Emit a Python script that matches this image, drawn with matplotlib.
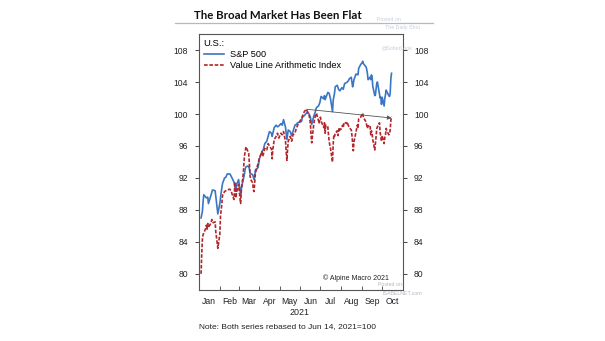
import pandas as pd
import matplotlib.pyplot as plt
import matplotlib.dates as mdates
from matplotlib.lines import Line2D

# S&P 500, rebased Jun 14 2021 = 100
spx_dates = ['01-04', '01-06', '01-07', '01-08', '01-12', '01-14', '01-15', '01-19', '01-21', '01-25',
             '01-27', '01-29', '02-01', '02-03', '02-05', '02-08', '02-10', '02-12', '02-16', '02-18',
             '02-22', '02-23', '02-25', '02-26', '03-01', '03-03', '03-04', '03-05', '03-09', '03-11',
             '03-12', '03-15', '03-17', '03-18', '03-22', '03-24', '03-25', '03-26', '03-30', '04-01',
             '04-05', '04-07', '04-09', '04-12', '04-14', '04-16', '04-19', '04-20', '04-22', '04-23',
             '04-26', '04-28', '04-30', '05-03', '05-05', '05-07', '05-10', '05-11', '05-12', '05-13',
             '05-14', '05-17', '05-19', '05-21', '05-24', '05-26', '05-28', '06-01', '06-03', '06-04',
             '06-07', '06-08', '06-10', '06-11', '06-14', '06-16', '06-18', '06-21', '06-23', '06-25',
             '06-28', '06-30', '07-02', '07-06', '07-07', '07-08', '07-12', '07-14', '07-16', '07-19',
             '07-20', '07-22', '07-23', '07-26', '07-28', '07-30', '08-02', '08-04', '08-06', '08-10',
             '08-12', '08-13', '08-16', '08-18', '08-19', '08-20', '08-23', '08-26', '08-27', '08-30',
             '09-01', '09-02', '09-03', '09-07', '09-08', '09-09', '09-10', '09-13', '09-14', '09-15',
             '09-16', '09-17', '09-20', '09-21', '09-22', '09-23', '09-24', '09-28', '09-29', '09-30',
             '10-01', '10-04', '10-05', '10-06', '10-07', '10-08', '10-11', '10-12', '10-13', '10-14',
             '10-15']
spx_vals = [87.0, 87.8, 89.0, 89.9, 89.5, 89.6, 88.8, 89.9, 90.5, 90.4,
            89.0, 87.5, 88.8, 90.2, 91.3, 92.0, 92.1, 92.5, 92.5, 92.2,
            91.5, 91.0, 90.4, 91.2, 91.8, 90.6, 89.9, 90.7, 92.2, 93.2,
            93.4, 93.5, 93.2, 92.6, 92.4, 91.8, 92.3, 93.0, 93.3, 94.4,
            95.3, 95.6, 96.3, 96.6, 97.2, 97.8, 97.6, 97.2, 97.9, 98.3,
            98.6, 98.4, 98.5, 98.8, 98.6, 99.3, 98.3, 97.5, 96.8, 97.4,
            98.0, 97.8, 97.3, 97.8, 98.6, 98.7, 98.9, 99.0, 99.1, 99.6,
            99.8, 99.9, 100.1, 100.2, 100.0, 99.6, 98.7, 99.7, 100.2, 100.8,
            101.0, 101.4, 102.2, 101.9, 102.3, 101.8, 102.7, 102.6, 101.9, 100.3,
            101.7, 102.6, 103.4, 103.6, 103.1, 102.9, 103.3, 103.1, 103.8, 104.0,
            104.2, 104.4, 104.6, 103.4, 103.8, 104.3, 105.0, 104.9, 105.7, 106.2,
            106.4, 106.6, 106.3, 105.9, 105.6, 105.1, 104.3, 104.6, 104.3, 104.9,
            104.7, 103.5, 102.3, 102.4, 103.2, 103.9, 104.0, 102.0, 102.1, 101.2,
            102.1, 101.0, 102.0, 102.4, 103.0, 102.8, 102.3, 102.2, 102.6, 104.4,
            105.1]

# Value Line Arithmetic Index, rebased Jun 14 2021 = 100
vla_dates = ['01-04', '01-05', '01-06', '01-07', '01-08', '01-11', '01-12', '01-13', '01-14', '01-15',
             '01-19', '01-20', '01-22', '01-25', '01-26', '01-27', '01-29', '02-01', '02-02', '02-04',
             '02-05', '02-08', '02-10', '02-12', '02-16', '02-18', '02-22', '02-23', '02-24', '02-25',
             '02-26', '03-01', '03-03', '03-04', '03-05', '03-08', '03-09', '03-10', '03-12', '03-15',
             '03-16', '03-17', '03-18', '03-19', '03-22', '03-23', '03-24', '03-25', '03-26', '03-29',
             '03-31', '04-01', '04-05', '04-06', '04-07', '04-09', '04-12', '04-14', '04-16', '04-19',
             '04-20', '04-21', '04-22', '04-23', '04-26', '04-28', '04-29', '04-30', '05-03', '05-05',
             '05-07', '05-10', '05-11', '05-12', '05-13', '05-14', '05-17', '05-19', '05-20', '05-21',
             '05-24', '05-26', '05-28', '06-01', '06-03', '06-04', '06-07', '06-08', '06-10', '06-11',
             '06-14', '06-15', '06-16', '06-17', '06-18', '06-21', '06-22', '06-23', '06-24', '06-25',
             '06-28', '06-29', '06-30', '07-01', '07-02', '07-06', '07-07', '07-08', '07-09', '07-12',
             '07-13', '07-14', '07-15', '07-16', '07-19', '07-20', '07-21', '07-22', '07-23', '07-26',
             '07-27', '07-28', '07-29', '07-30', '08-02', '08-03', '08-04', '08-05', '08-06', '08-09',
             '08-10', '08-11', '08-12', '08-13', '08-16', '08-17', '08-18', '08-19', '08-20', '08-23',
             '08-24', '08-25', '08-26', '08-27', '08-30', '08-31', '09-01', '09-02', '09-03', '09-07',
             '09-08', '09-09', '09-10', '09-13', '09-14', '09-15', '09-16', '09-17', '09-20', '09-21',
             '09-22', '09-23', '09-24', '09-27', '09-28', '09-29', '09-30', '10-01', '10-04', '10-05',
             '10-06', '10-07', '10-08', '10-11', '10-12', '10-13', '10-14', '10-15']
vla_vals = [80.0, 82.5, 84.3, 84.9, 85.1, 85.7, 86.1, 85.6, 86.3, 85.8,
            86.4, 86.8, 86.4, 86.5, 85.2, 84.6, 83.2, 85.0, 87.2, 88.8,
            89.8, 90.3, 90.4, 90.5, 90.6, 90.3, 89.3, 90.6, 91.5, 89.5,
            90.2, 91.2, 89.5, 88.8, 90.4, 92.6, 94.0, 94.9, 95.9, 95.3,
            95.1, 93.9, 92.3, 91.8, 91.4, 90.5, 90.3, 91.5, 92.6, 93.5,
            94.2, 94.5, 95.3, 94.7, 95.0, 95.7, 95.5, 96.3, 96.0, 95.6,
            94.4, 95.6, 96.1, 96.8, 97.2, 97.6, 97.2, 97.0, 97.6, 97.4,
            97.8, 96.5, 95.2, 94.2, 95.6, 96.6, 97.2, 96.6, 96.9, 97.4,
            97.6, 98.2, 98.6, 99.2, 99.5, 99.7, 100.3, 100.4, 100.6, 100.4,
            100.0, 99.4, 98.8, 97.4, 96.4, 98.7, 99.2, 99.6, 99.9, 100.1,
            99.2, 98.8, 99.3, 99.6, 99.1, 98.3, 98.9, 97.6, 98.6, 98.4,
            97.4, 96.6, 96.1, 95.7, 94.0, 96.2, 97.4, 97.2, 97.6, 97.9,
            97.3, 97.7, 98.3, 98.0, 98.2, 98.6, 98.3, 98.8, 99.0, 98.8,
            99.0, 98.7, 98.5, 98.3, 98.0, 97.3, 96.4, 95.4, 96.5, 97.8,
            98.2, 98.6, 98.2, 99.4, 99.6, 99.8, 100.0, 100.1, 99.6, 99.0,
            98.6, 98.2, 98.5, 98.6, 97.4, 97.9, 97.6, 96.8, 95.5, 96.3,
            97.2, 98.2, 98.4, 98.9, 97.7, 97.2, 96.6, 97.3, 96.3, 97.1,
            97.4, 98.2, 97.9, 97.4, 97.6, 98.0, 99.2, 99.7]

month_labels = ['Jan', 'Feb', 'Mar', 'Apr', 'May', 'Jun', 'Jul', 'Aug', 'Sep', 'Oct']
y_ticks = [80, 84, 88, 92, 96, 100, 104, 108]

# trend arrow (Value Line June high -> latest)
arrow_start = ('2021-06-10', 100.6)
arrow_end = ('2021-10-15', 99.5)

spx = pd.Series(spx_vals, index=pd.to_datetime(['2021-' + d for d in spx_dates]))
vla = pd.Series(vla_vals, index=pd.to_datetime(['2021-' + d for d in vla_dates]))

plt.rcParams['font.family'] = ['Liberation Sans', 'DejaVu Sans']

fig = plt.figure(figsize=(6.05, 3.41), dpi=100)
ax = fig.add_axes([0.329, 0.150, 0.337, 0.750])

blue = '#3a76c4'
red = '#b3262b'
ax.plot(spx.index, spx.values, color=blue, lw=1.2, label='S&P 500')
ax.plot(vla.index, vla.values, color=red, lw=1.2, ls=(0, (2.2, 1.0)),
        label='Value Line Arithmetic Index')

ax.annotate('', xy=(pd.Timestamp(arrow_end[0]), arrow_end[1]),
            xytext=(pd.Timestamp(arrow_start[0]), arrow_start[1]),
            arrowprops=dict(arrowstyle='-|>', color='#555555', lw=0.6,
                            mutation_scale=6, shrinkA=0, shrinkB=0))

ax.set_xlim(pd.Timestamp('2021-01-01'), pd.Timestamp('2021-11-01'))
ax.set_ylim(78, 110)
ax.set_yticks(y_ticks)
ax.tick_params(axis='y', which='both', direction='out', length=3, width=0.6,
               labelsize=6.2, left=True, right=True, labelleft=True, labelright=True,
               colors='#222222', pad=5)

# month boundaries as inward ticks, names centred between them
ax.xaxis.set_major_locator(mdates.MonthLocator())
ax.xaxis.set_major_formatter(plt.NullFormatter())
ax.xaxis.set_minor_locator(mdates.MonthLocator(bymonthday=16))
ax.xaxis.set_minor_formatter(mdates.DateFormatter('%b'))
ax.tick_params(axis='x', which='major', direction='in', length=3, width=0.6, color='#444444')
ax.tick_params(axis='x', which='minor', length=0, labelsize=6.2, pad=5, colors='#222222')
for lab in ax.xaxis.get_minorticklabels():
    if lab.get_text() not in month_labels:
        lab.set_visible(False)
ticks = ax.xaxis.get_major_ticks()
if ticks:
    ticks[0].tick1line.set_visible(False)

for s in ax.spines.values():
    s.set_color('#555555')
    s.set_linewidth(0.8)

leg = ax.legend(loc='upper left', title='U.S.:', frameon=False, fontsize=6.6,
                title_fontsize=6.8, handlelength=2.2, handletextpad=0.7,
                borderaxespad=0.3, labelspacing=0.25, borderpad=0.2)
leg._legend_box.align = 'left'

ax.text(0.93, 0.045, '\u00a9 Alpine Macro 2021', transform=ax.transAxes,
        ha='right', va='center', fontsize=5.0, color='#222222')

fig.text(0.4955, 0.085, '2021', ha='center', va='center', fontsize=6.4, color='#222222')
fig.text(0.329, 0.042, 'Note: Both series rebased to Jun 14, 2021=100', ha='left',
         va='center', fontsize=6.0, color='#222222')

# title and rule
fig.text(0.46, 0.955, 'The Broad Market Has Been Flat', ha='center', va='center',
         fontsize=8.3, fontweight='bold', family='Lato', color='#111111')
fig.add_artist(Line2D([0.29, 0.715], [0.932, 0.932], color='#a8bccd', lw=0.9))

# faint watermarks
wm = '#c6ced8'
fig.text(0.623, 0.942, 'Posted on', fontsize=3.8, color=wm, ha='left', va='center')
fig.text(0.637, 0.918, 'The Daily Shot', fontsize=3.8, color=wm, ha='left', va='center')
fig.text(0.63, 0.86, '@SoberLook', fontsize=3.8, color=wm, ha='left', va='center')
fig.text(0.624, 0.165, 'Posted on', fontsize=3.8, color='#b0b8c2', ha='left', va='center')
fig.text(0.632, 0.14, 'ISABELNET.com', fontsize=3.8, color='#b0b8c2', ha='left', va='center')

fig.savefig('out.png', dpi=100)
